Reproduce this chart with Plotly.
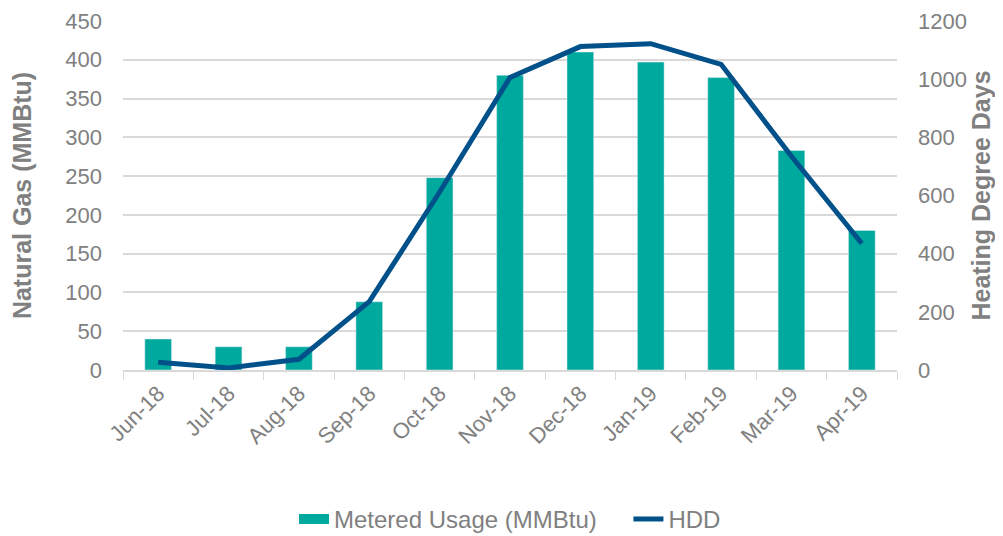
import plotly.graph_objects as go

months = ["Jun-18", "Jul-18", "Aug-18", "Sep-18", "Oct-18", "Nov-18",
          "Dec-18", "Jan-19", "Feb-19", "Mar-19", "Apr-19"]
metered_usage = [40, 30, 30, 88, 248, 380, 410, 397, 377, 283, 180]
hdd = [27, 7, 37, 235, 612, 1006, 1112, 1122, 1051, 735, 435]

gray = "#808080"
teal = "#00A99D"
blue = "#00508A"
font_family = "Liberation Sans, Arial, sans-serif"

fig = go.Figure()

fig.add_trace(go.Bar(x=months, y=metered_usage, name="Metered Usage (MMBtu)",
                     marker_color=teal, yaxis="y", showlegend=False))

# legend entry with a wide flat swatch, like the original
fig.add_trace(go.Scatter(x=[None], y=[None], name="Metered Usage (MMBtu)\u00a0\u00a0\u00a0\u00a0",
                         mode="lines", line=dict(color=teal, width=13), yaxis="y"))

fig.add_trace(go.Scatter(x=months, y=hdd, name="HDD", mode="lines",
                         line=dict(color=blue, width=5), yaxis="y2"))

# the page puts the figure 8px in from the corner, so size it to fit the window
fig.update_layout(
    width=995, height=528,
    margin=dict(l=115, r=106, t=13, b=166, autoexpand=False),
    plot_bgcolor="white", paper_bgcolor="white",
    font=dict(family=font_family, size=22, color=gray),
    bargap=0.62,
    showlegend=True,
    legend=dict(orientation="h", x=0.5, xanchor="center", y=-0.428, yanchor="middle",
                font=dict(size=24, color=gray), traceorder="normal"),
    xaxis=dict(tickangle=-45, ticks="outside", tickson="boundaries", ticklen=8,
               tickcolor="#D9D9D9", showline=True, linecolor="#D9D9D9", linewidth=2,
               tickfont=dict(size=22, color=gray), automargin=False),
    yaxis=dict(range=[0, 450], dtick=50, showgrid=True, gridcolor="#D9D9D9", gridwidth=2,
               zeroline=False, ticks="", ticklabelstandoff=20, automargin=False,
               ticklabeloverflow="allow",
               tickfont=dict(size=22, color=gray),
               title=dict(text="<b>Natural Gas (MMBtu)</b>", font=dict(size=25, color=gray),
                          standoff=27)),
    yaxis2=dict(range=[0, 1200], dtick=200, overlaying="y", side="right",
                showgrid=False, zeroline=False, ticklabelstandoff=20, automargin=False,
                ticklabeloverflow="allow",
                tickfont=dict(size=22, color=gray),
                title=dict(text="<b>Heating Degree Days</b>", font=dict(size=25, color=gray),
                           standoff=4)),
)

fig.write_html("out.html")
